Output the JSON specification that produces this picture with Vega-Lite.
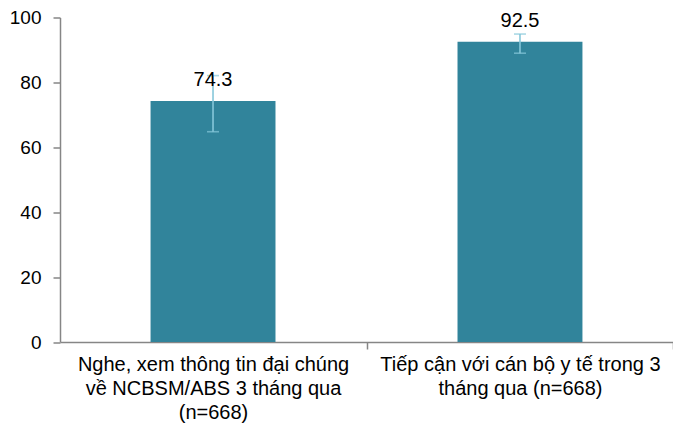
{
  "$schema": "https://vega.github.io/schema/vega-lite/v6.json",
  "autosize": "none",
  "width": 613,
  "height": 324.5,
  "padding": {"left": 60, "top": 17.5, "right": 0, "bottom": 91},
  "background": "white",
  "config": {
    "view": {"stroke": null},
    "font": "Liberation Sans"
  },
  "data": {
    "values": [
      {"cat": "Nghe, xem thông tin đại chúng\nvề NCBSM/ABS 3 tháng qua\n(n=668)", "value": 74.3, "lo": 64.8, "hi": 82.1},
      {"cat": "Tiếp cận với cán bộ y tế trong 3\ntháng qua (n=668)", "value": 92.5, "lo": 89.0, "hi": 94.9}
    ]
  },
  "encoding": {
    "x": {
      "field": "cat",
      "type": "nominal",
      "sort": null,
      "scale": {"paddingInner": 0.593, "paddingOuter": 0.295},
      "axis": {
        "title": null,
        "labelAngle": 0,
        "labelExpr": "split(datum.label, '\\n')",
        "labelFont": "Liberation Sans",
        "labelFontSize": 20,
        "labelColor": "#000000",
        "labelLineHeight": 24,
        "labelBaseline": "top",
        "labelPadding": 5,
        "labelLimit": 400,
        "tickOffset": 153.5,
        "labelOffset": -153.5,
        "tickSize": 7,
        "tickColor": "#868686",
        "domainColor": "#868686",
        "domainWidth": 1.5,
        "tickWidth": 1.5
      }
    }
  },
  "layer": [
    {
      "mark": {"type": "bar", "color": "#31849B"},
      "encoding": {
        "y": {
          "field": "value",
          "type": "quantitative",
          "scale": {"domain": [0, 100], "nice": false},
          "axis": {
            "title": null,
            "values": [0, 20, 40, 60, 80, 100],
            "grid": false,
            "labelFont": "Liberation Sans",
            "labelFontSize": 19,
            "labelColor": "#000000",
            "labelPadding": 12,
            "tickSize": 7,
            "tickColor": "#868686",
            "domainColor": "#868686",
            "domainWidth": 1.5,
            "tickWidth": 1.5
          }
        }
      }
    },
    {
      "mark": {"type": "rule", "color": "#86C7DA", "strokeWidth": 1.6},
      "encoding": {
        "y": {"field": "lo", "type": "quantitative"},
        "y2": {"field": "hi"}
      }
    },
    {
      "mark": {"type": "tick", "color": "#86C7DA", "size": 12, "thickness": 1.6, "orient": "horizontal"},
      "encoding": {
        "y": {"field": "lo", "type": "quantitative"}
      }
    },
    {
      "mark": {"type": "tick", "color": "#86C7DA", "size": 12, "thickness": 1.6, "orient": "horizontal"},
      "encoding": {
        "y": {"field": "hi", "type": "quantitative"}
      }
    },
    {
      "mark": {"type": "text", "fontSize": 20, "font": "Liberation Sans", "color": "#000000", "baseline": "alphabetic", "dy": -15},
      "encoding": {
        "y": {"field": "value", "type": "quantitative"},
        "text": {"field": "value", "type": "quantitative", "format": ".1f"}
      }
    }
  ]
}
